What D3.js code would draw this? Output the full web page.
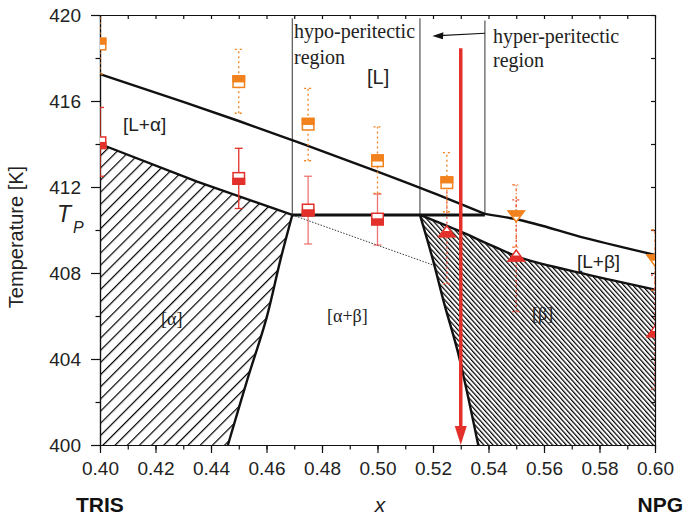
<!DOCTYPE html>
<html><head><meta charset="utf-8">
<script src="https://cdn.jsdelivr.net/npm/d3@7"></script>
<style>
body{margin:0;background:#fff;}
svg{display:block;font-family:"Liberation Sans",Arial,sans-serif;}
</style></head>
<body>
<svg id="chart" width="684" height="518"></svg>
<script>
// ---------- data ----------
const xMajorTicks = [0.40,0.42,0.44,0.46,0.48,0.50,0.52,0.54,0.56,0.58,0.60];
const yMajorTicks = [400,404,408,412,416,420];
const yMinorTicks = [402,406,410,414,418];

const liquidusAlpha = [[0.40,417.25],[0.43,415.96],[0.45,415.07],[0.47,414.14],[0.50,412.72],[0.52,411.73],[0.5387,410.75]];
const liquidusBeta  = [[0.5387,410.75],[0.55,410.5],[0.575,409.62],[0.60,408.84]];
const solidusAlpha  = [[0.40,414.0],[0.435,412.25],[0.4693,410.7]];
const solvusAlpha   = [[0.4693,410.7],[0.4650,408.6],[0.4600,405.9],[0.4530,403.0],[0.4461,400]];
const solvusBeta    = [[0.5153,410.7],[0.5200,408.6],[0.5240,406.6],[0.5290,404.3],[0.5363,400]];
const solidusBeta   = [[0.5153,410.7],[0.53,409.92],[0.5425,409.2],[0.5525,408.67],[0.575,407.95],[0.60,407.23]];
const peritectic    = [[0.4693,410.7],[0.5387,410.7]];
const metastable    = [[0.4693,410.7],[0.5205,408.35]];
const regionBounds  = [0.4693,0.5153,0.5387];
const regionTop     = [419.85,419.85,419.75];
const compositionX  = 0.53;
const arrowTopT     = 418.45;

// measured liquidus (orange squares)
const liqSqX  = [0.40,0.45,0.475,0.50,0.525];
const liqSqT  = [418.65,416.9,414.92,413.22,412.2];
const liqSqLo = [417.25,415.43,413.22,411.7,410.85];
const liqSqHi = [420.3,418.4,416.59,414.8,413.6];
// measured solidus (red squares)
const solSqX  = [0.40,0.45,0.475,0.50];
const solSqT  = [414.06,412.4,410.93,410.51];
const solSqLo = [412.5,411.0,409.35,409.3];
const solSqHi = [415.7,413.8,412.5,411.67];
// measured liquidus (orange down triangles)
const liqTrX  = [0.55,0.60];
const liqTrT  = [410.65,408.6];
const liqTrLo = [409.2,407.2];
const liqTrHi = [412.1,410.0];
// measured solidus (red up triangles)
const solTrX  = [0.525,0.55,0.60];
const solTrT  = [409.92,408.79,405.27];
const solTrLo = [407.5,406.2,402.6];
const solTrHi = [412.3,411.4,407.9];

// ---------- setup ----------
const W=684,H=518, m={left:100,right:29,top:15,bottom:73};
const svg=d3.select("#chart");
const x=d3.scaleLinear().domain([0.40,0.60]).range([m.left,W-m.right]);
const y=d3.scaleLinear().domain([400,420]).range([H-m.bottom,m.top]);
const ORANGE="#f2821e", RED="#e3302a", INK="#111";

const defs=svg.append("defs");
defs.append("clipPath").attr("id","plotclip").append("rect")
  .attr("x",m.left).attr("y",m.top).attr("width",W-m.left-m.right).attr("height",H-m.top-m.bottom);
const pa=defs.append("pattern").attr("id","hatchA").attr("patternUnits","userSpaceOnUse")
  .attr("width",8.6).attr("height",8.6).attr("patternTransform","rotate(45)");
pa.append("line").attr("x1",0.6).attr("y1",-1).attr("x2",0.6).attr("y2",10).attr("stroke","#000").attr("stroke-width",1.2);
const pb=defs.append("pattern").attr("id","hatchB").attr("patternUnits","userSpaceOnUse")
  .attr("width",3.4).attr("height",3.4).attr("patternTransform","rotate(-42)");
pb.append("line").attr("x1",0.6).attr("y1",-1).attr("x2",0.6).attr("y2",5).attr("stroke","#000").attr("stroke-width",1.25);

const line=d3.line().x(d=>x(d[0])).y(d=>y(d[1]));
const smooth=d3.line().x(d=>x(d[0])).y(d=>y(d[1])).curve(d3.curveMonotoneX);
const cr=d3.line().x(d=>x(d[0])).y(d=>y(d[1])).curve(d3.curveCatmullRom.alpha(0.5));

// hatched regions
const alphaPoly=[[0.40,400]].concat(solidusAlpha, solvusAlpha.slice(1));
svg.append("path").attr("d",line(alphaPoly)+"Z").attr("fill","url(#hatchA)");
const betaPoly=solidusBeta.concat([[0.60,400]], solvusBeta.slice().reverse());
svg.append("path").attr("d",line(betaPoly)+"Z").attr("fill","url(#hatchB)");

// axes
function styleAxis(g){g.selectAll("path,line").attr("stroke","#111").attr("stroke-width",1.2);
  g.selectAll("text").attr("font-size",19).attr("fill","#222").attr("font-family","'Liberation Sans',Arial,sans-serif");}
const xMinor=d3.range(40,61).map(v=>v/100);
svg.append("g").attr("transform",`translate(0,${H-m.bottom})`)
  .call(d3.axisBottom(x).tickValues(xMinor).tickSize(4.5).tickFormat("").tickSizeOuter(0)).call(styleAxis);
svg.append("g").attr("transform",`translate(0,${H-m.bottom})`)
  .call(d3.axisBottom(x).tickValues(xMajorTicks).tickSize(8).tickPadding(9).tickFormat(d3.format(".2f")).tickSizeOuter(0))
  .call(styleAxis);
svg.append("g").attr("transform",`translate(${m.left},0)`)
  .call(d3.axisLeft(y).tickValues(yMinorTicks).tickSize(4.5).tickFormat("").tickSizeOuter(0)).call(styleAxis);
svg.append("g").attr("transform",`translate(${m.left},0)`)
  .call(d3.axisLeft(y).tickValues(yMajorTicks).tickSize(9).tickPadding(10).tickFormat(d3.format("d")).tickSizeOuter(0))
  .call(styleAxis);
svg.append("g").attr("transform",`translate(0,${m.top})`)
  .call(d3.axisTop(x).tickValues(xMinor).tickSize(-4).tickFormat("").tickSizeOuter(0)).call(styleAxis);
svg.append("g").attr("transform",`translate(${W-m.right},0)`)
  .call(d3.axisRight(y).tickValues(yMajorTicks.concat(yMinorTicks)).tickSize(-4).tickFormat("").tickSizeOuter(0)).call(styleAxis);

// region boundary verticals
regionBounds.forEach((b,i)=>{
  svg.append("line").attr("x1",x(b)).attr("x2",x(b)).attr("y1",y(regionTop[i])).attr("y2",y(410.7))
    .attr("stroke","#555").attr("stroke-width",1.2);
});

// phase boundaries
const bl=svg.append("g").attr("fill","none").attr("stroke",INK).attr("stroke-width",2.4);
bl.append("path").attr("d",smooth(liquidusAlpha));
bl.append("path").attr("d",smooth(liquidusBeta));
bl.append("path").attr("d",line(solidusAlpha));
bl.append("path").attr("d",cr(solvusAlpha));
bl.append("path").attr("d",cr(solvusBeta));
bl.append("path").attr("d",cr(solidusBeta));
bl.append("path").attr("d",line(peritectic)).attr("stroke-width",3);
svg.append("path").attr("d",line(metastable)).attr("fill","none").attr("stroke","#222")
  .attr("stroke-width",0.9).attr("stroke-dasharray","1.5,1.5");

// markers and error bars (clipped)
const mk=svg.append("g").attr("clip-path","url(#plotclip)");
function errbar(xv,lo,hi,color,dash,op){
  const g=mk.append("g").attr("stroke",color).attr("stroke-width",1.3).attr("opacity",op||1);
  if(dash) g.attr("stroke-dasharray",dash);
  g.append("line").attr("x1",x(xv)).attr("x2",x(xv)).attr("y1",y(lo)).attr("y2",y(hi));
  [lo,hi].forEach(v=>g.append("line").attr("x1",x(xv)-4).attr("x2",x(xv)+4).attr("y1",y(v)).attr("y2",y(v)));
}
function square(xv,t,color,topFilled){
  const cx=x(xv),cy=y(t),s=11.5;
  mk.append("rect").attr("x",cx-s/2).attr("y",cy-s/2).attr("width",s).attr("height",s)
    .attr("fill","#fff").attr("stroke",color).attr("stroke-width",1.5);
  mk.append("rect").attr("x",cx-s/2).attr("y",topFilled?cy-s/2:cy).attr("width",s).attr("height",s/2)
    .attr("fill",color).attr("stroke",color).attr("stroke-width",1.5);
}
function triangle(xv,t,color,down){
  const cx=x(xv),cy=y(t),d=down?1:-1;
  mk.append("path").attr("d",`M${cx-8},${cy-5*d}L${cx+8},${cy-5*d}L${cx},${cy+6*d}Z`)
    .attr("fill","#fff").attr("stroke",color).attr("stroke-width",1.5);
  mk.append("path").attr("d",`M${cx-8},${cy-5*d}L${cx+8},${cy-5*d}L${cx+3.6},${cy}L${cx-3.6},${cy}Z`)
    .attr("fill",color).attr("stroke",color).attr("stroke-width",1.2);
}
liqSqX.forEach((v,i)=>errbar(v,liqSqLo[i],liqSqHi[i],ORANGE,"2,3"));
solSqX.forEach((v,i)=>errbar(v,solSqLo[i],solSqHi[i],RED,null,i>=2?0.65:1));
liqTrX.forEach((v,i)=>errbar(v,liqTrLo[i],liqTrHi[i],"#f06a2a","3,2,1,2"));
solTrX.forEach((v,i)=>errbar(v,solTrLo[i],solTrHi[i],"#e8503a","2,3"));
liqSqX.forEach((v,i)=>square(v,liqSqT[i],ORANGE,true));
solSqX.forEach((v,i)=>square(v,solSqT[i],RED,false));
liqTrX.forEach((v,i)=>triangle(v,liqTrT[i],ORANGE,true));
solTrX.forEach((v,i)=>triangle(v,solTrT[i],RED,false));

// red composition arrow
svg.append("line").attr("x1",x(compositionX)).attr("x2",x(compositionX))
  .attr("y1",y(arrowTopT)).attr("y2",y(400)-16).attr("stroke",RED).attr("stroke-width",3.5);
svg.append("path").attr("d",`M${x(compositionX)-6},${y(400)-19}L${x(compositionX)+6},${y(400)-19}L${x(compositionX)},${y(400)}Z`)
  .attr("fill",RED);

// small black arrow (hyper-peritectic)
svg.append("line").attr("x1",x(0.5387)).attr("y1",33.3).attr("x2",x(0.5205)+5).attr("y2",35.6)
  .attr("stroke","#111").attr("stroke-width",1.1);
svg.append("path").attr("d",`M${x(0.5205)-2},36L${x(0.5205)+9},32.2L${x(0.5205)+8.5},39.3Z`).attr("fill","#111");

// text annotations
const serif="'Liberation Serif','Times New Roman',serif", sans="'Liberation Sans',Arial,sans-serif";
function txt(s,px,py,size,fam,opts){
  const t=svg.append("text").attr("x",px).attr("y",py).attr("font-size",size).attr("font-family",fam)
    .attr("fill",(opts&&opts.fill)||"#222").text(s);
  if(opts&&opts.anchor) t.attr("text-anchor",opts.anchor);
  if(opts&&opts.weight) t.attr("font-weight",opts.weight);
  if(opts&&opts.style) t.attr("font-style",opts.style);
  return t;
}
txt("hypo-peritectic",294,38,20,serif);
txt("region",294,63.5,20,serif);
txt("hyper-peritectic",493,42.5,20,serif);
txt("region",493,67,20,serif);
txt("[L]",367,83.5,20,sans);
txt("[L+α]",123,131,19,sans);
txt("[L+β]",577,268,19,sans);
txt("[α]",161,325,18,serif);
txt("[α+β]",327,322,18,serif);
txt("[β]",532,320,18,serif);

// axis titles
svg.append("text").attr("transform","translate(23,237) rotate(-90)").attr("text-anchor","middle")
  .attr("font-size",20).attr("font-family",sans).attr("fill","#222").text("Temperature [K]");
txt("T",57,222,23,sans,{style:"italic"});
txt("P",73,232.5,16,sans,{style:"italic"});
txt("TRIS",76,512,21,sans,{weight:"bold",fill:"#111"});
txt("x",380,512,21,sans,{style:"italic",anchor:"middle"});
txt("NPG",683,512,21,sans,{weight:"bold",anchor:"end",fill:"#111"});
</script>
</body></html>
